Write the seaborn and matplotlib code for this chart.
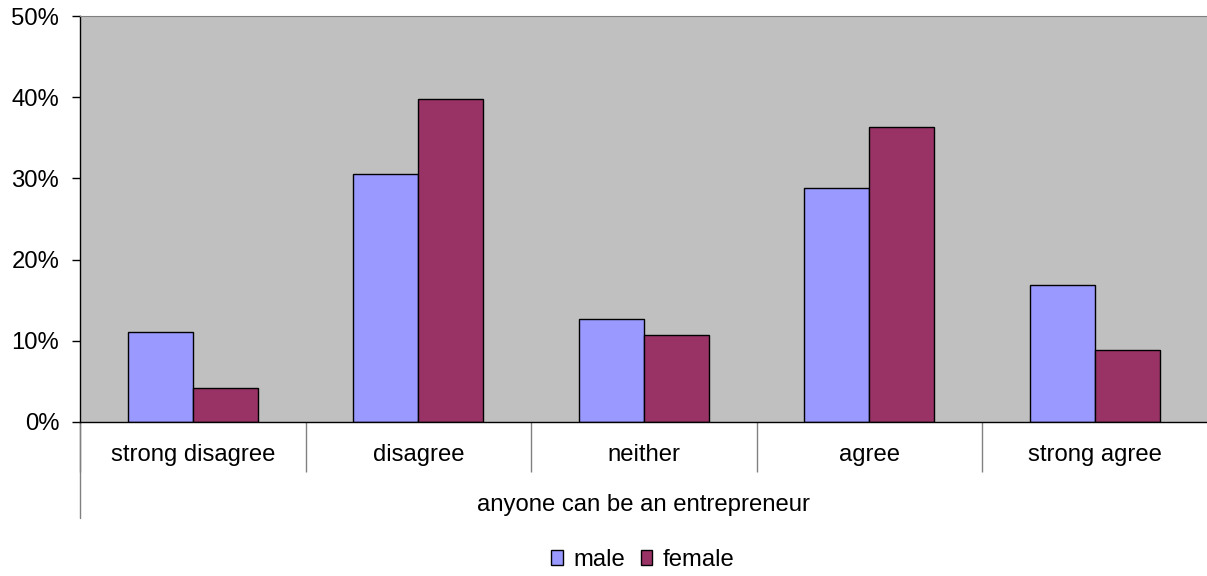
import numpy as np
import pandas as pd
import seaborn as sns
import matplotlib.pyplot as plt
from matplotlib.ticker import FuncFormatter

categories = ["strong disagree", "disagree", "neither", "agree", "strong agree"]
male = [11.1, 30.5, 12.7, 28.8, 16.8]
female = [4.1, 39.8, 10.7, 36.4, 8.9]
groups = ["male", "female"]
colors = {"male": "#9999FF", "female": "#993366"}

df = pd.DataFrame({
    "response": categories * 2,
    "share": male + female,
    "gender": ["male"] * len(categories) + ["female"] * len(categories),
})

sns.set_style("white")
plt.rcParams["font.family"] = ["Liberation Sans", "DejaVu Sans"]
plt.rcParams["text.color"] = "black"
FS = 17.2

fig = plt.figure(figsize=(12.07, 5.76), dpi=100)
ax = fig.add_axes([80 / 1207, 1 - 421.7 / 576, 1127.5 / 1207, (421.7 - 16.3) / 576])
ax.set_facecolor("#C0C0C0")

sns.barplot(
    data=df, x="response", y="share", hue="gender", hue_order=groups,
    order=categories, palette=colors, width=0.577, gap=0, saturation=1,
    edgecolor="black", linewidth=1, ax=ax,
)

ax.set_ylim(0, 50)
ax.set_xlim(-0.5, len(categories) - 0.5)
ax.set_yticks(np.arange(0, 51, 10))
ax.yaxis.set_major_formatter(FuncFormatter(lambda v, p: f"{v:.0f}%"))
ax.tick_params(axis="y", length=6, width=1, color="black", pad=9, labelsize=FS,
               labelcolor="black", left=True)

# category labels + long separator ticks between categories
ax.set_xticks(np.arange(len(categories)))
ax.set_xticklabels(categories)
ax.tick_params(axis="x", which="major", length=0, pad=16, labelsize=FS, labelcolor="black")
ax.set_xticks(np.arange(len(categories) + 1) - 0.5, minor=True)
ax.tick_params(axis="x", which="minor", length=36, width=1, color="#808080", bottom=True)

for side in ["left", "bottom"]:
    ax.spines[side].set_color("black")
    ax.spines[side].set_linewidth(1)
ax.spines["top"].set_color("#808080")
ax.spines["right"].set_visible(False)

# left axis line continues down past the group label
ax.plot([0, 0], [0, -0.2375], transform=ax.transAxes, color="#808080", lw=1, clip_on=False)

ax.set_ylabel("")
ax.set_xlabel("anyone can be an entrepreneur", fontsize=FS, color="black")
ax.xaxis.set_label_coords(0.5, -0.2055)
ax.xaxis.label.set_va("center")

handles, labels = ax.get_legend_handles_labels()
ax.get_legend().remove()
fig.legend(handles, labels, loc="center", bbox_to_anchor=(643 / 1207, 1 - 560 / 576),
           ncol=2, frameon=False, fontsize=FS, handlelength=0.48, handleheight=0.55,
           handletextpad=0.45, columnspacing=0.65, labelcolor="black")

fig.savefig("out.png", dpi=100)
